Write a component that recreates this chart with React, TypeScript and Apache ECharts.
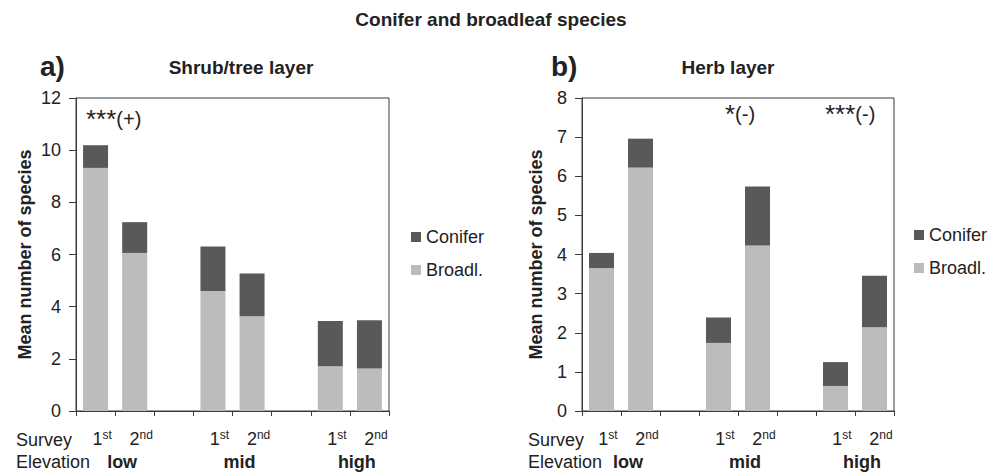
import React, { useEffect, useRef } from "react";
import * as echarts from "echarts";

const surveys = ["1st", "2nd", "", "1st", "2nd", "", "1st", "2nd"];
const elevationSlots = ["", "low", "", "", "mid", "", "", "high", ""];
const seriesNames = ["Broadl.", "Conifer"];

const shrubBroadl = [9.32, 6.06, null, 4.6, 3.63, null, 1.72, 1.63];
const shrubConifer = [0.87, 1.18, null, 1.71, 1.64, null, 1.73, 1.85];
const herbBroadl = [3.65, 6.22, null, 1.74, 4.23, null, 0.64, 2.14];
const herbConifer = [0.39, 0.74, null, 0.65, 1.51, null, 0.61, 1.32];

const shrubTicks = { min: 0, max: 12, interval: 2 };
const herbTicks = { min: 0, max: 8, interval: 1 };

const FONT = "'Liberation Sans', Arial, Helvetica, sans-serif";
const TXT = "#222";
const AX = "#3a3a3a";
const C_CON = "#595959";
const C_BRO = "#bcbcbc";

function surveyAxis(gridIndex: number) {
  return {
    type: "category",
    gridIndex,
    data: surveys,
    position: "bottom",
    axisLine: { show: true, lineStyle: { color: AX, width: 1 } },
    axisTick: { show: true, interval: 0, length: 5, lineStyle: { color: AX } },
    axisLabel: {
      interval: 0,
      margin: 18,
      padding: [0, 0, 0, 13],
      formatter: (v: string) => (v ? `{n|${v[0]}}{s|${v.slice(1)}}` : ""),
      rich: {
        n: { fontSize: 18, fontFamily: FONT, color: TXT, lineHeight: 20 },
        s: { fontSize: 12, fontFamily: FONT, color: TXT, lineHeight: 20, verticalAlign: "top" },
      },
    },
    splitLine: { show: false },
  };
}

function elevationAxis(gridIndex: number) {
  return {
    type: "category",
    gridIndex,
    data: elevationSlots,
    position: "bottom",
    boundaryGap: false,
    axisLine: { show: false },
    axisTick: { show: false },
    axisLabel: {
      interval: 0,
      margin: 41,
      padding: [0, 0, 0, 14],
      fontSize: 18,
      fontWeight: "bold",
      fontFamily: FONT,
      color: TXT,
      lineHeight: 20,
    },
    splitLine: { show: false },
  };
}

function valueAxis(gridIndex: number, ticks: { min: number; max: number; interval: number }, nameGap: number) {
  return {
    type: "value",
    gridIndex,
    min: ticks.min,
    max: ticks.max,
    interval: ticks.interval,
    name: "Mean number of species",
    nameLocation: "middle",
    nameRotate: 90,
    nameGap,
    nameTextStyle: { fontSize: 18, fontWeight: "bold", fontFamily: FONT, color: TXT, lineHeight: 18 },
    axisLine: { show: true, lineStyle: { color: AX, width: 1 } },
    axisTick: { show: true, length: 7, lineStyle: { color: AX } },
    axisLabel: { margin: 15, fontSize: 18, fontFamily: FONT, color: TXT },
    splitLine: { show: false },
  };
}

function barSeries(name: string, data: (number | null)[], axisIndex: number, stack: string, color: string) {
  return {
    type: "bar",
    name,
    data,
    xAxisIndex: axisIndex,
    yAxisIndex: axisIndex,
    stack,
    barWidth: 25,
    itemStyle: { color },
  };
}

function legend(left: number, top: number) {
  return {
    orient: "vertical",
    left,
    top,
    data: [seriesNames[1], seriesNames[0]],
    icon: "rect",
    itemWidth: 10,
    itemHeight: 10,
    itemGap: 13,
    textStyle: { fontSize: 18, fontFamily: FONT, color: TXT, lineHeight: 20 },
  };
}

function txt(text: string, x: number, y: number, size: number, bold: boolean, align = "left") {
  return {
    type: "text",
    x,
    y,
    style: {
      text,
      fontSize: size,
      fontWeight: bold ? "bold" : "normal",
      fontFamily: FONT,
      fill: TXT,
      align,
      verticalAlign: "middle",
    },
  };
}

function stars(stars: string, sign: string, x: number, y: number) {
  return {
    type: "text",
    x,
    y,
    style: {
      text: `{a|${stars}}{b|${sign}}`,
      align: "left",
      verticalAlign: "middle",
      rich: {
        a: { fontSize: 26, fontFamily: FONT, fill: TXT, lineHeight: 26 },
        b: { fontSize: 20, fontFamily: FONT, fill: TXT, lineHeight: 26 },
      },
    },
  };
}

export default function App() {
  const ref = useRef<HTMLDivElement>(null);
  useEffect(() => {
    if (!ref.current) return;
    const chart = echarts.init(ref.current, undefined, { renderer: "svg" });
    chart.setOption({
      animation: false,
      backgroundColor: "#ffffff",
      grid: [
        { left: 76, top: 98, width: 313, height: 314, show: true, borderColor: AX, borderWidth: 1, backgroundColor: "transparent" },
        { left: 582, top: 98, width: 312, height: 314, show: true, borderColor: AX, borderWidth: 1, backgroundColor: "transparent" },
      ],
      xAxis: [surveyAxis(0), surveyAxis(1), elevationAxis(0), elevationAxis(1)],
      yAxis: [valueAxis(0, shrubTicks, 42), valueAxis(1, herbTicks, 37)],
      legend: [legend(406, 222), legend(909, 220)],
      series: [
        barSeries(seriesNames[0], shrubBroadl, 0, "shrub", C_BRO),
        barSeries(seriesNames[1], shrubConifer, 0, "shrub", C_CON),
        barSeries(seriesNames[0], herbBroadl, 1, "herb", C_BRO),
        barSeries(seriesNames[1], herbConifer, 1, "herb", C_CON),
      ],
      graphic: [
        txt("Conifer and broadleaf species", 491, 19, 19, true, "center"),
        txt("a)", 40, 66, 28, true),
        txt("Shrub/tree layer", 241, 67, 19, true, "center"),
        txt("b)", 551, 66, 28, true),
        txt("Herb layer", 728, 67, 19, true, "center"),
        stars("***", "(+)", 86, 119),
        stars("*", "(-)", 725, 114),
        stars("***", "(-)", 825, 114),
        txt("Survey", 16, 440, 18, false),
        txt("Elevation", 16, 462, 18, false),
        txt("Survey", 528, 440, 18, false),
        txt("Elevation", 528, 462, 18, false),
      ],
    });
    return () => chart.dispose();
  }, []);
  return <div ref={ref} style={{ position: "absolute", left: 0, top: 0, width: 1001, height: 472 }} />;
}
